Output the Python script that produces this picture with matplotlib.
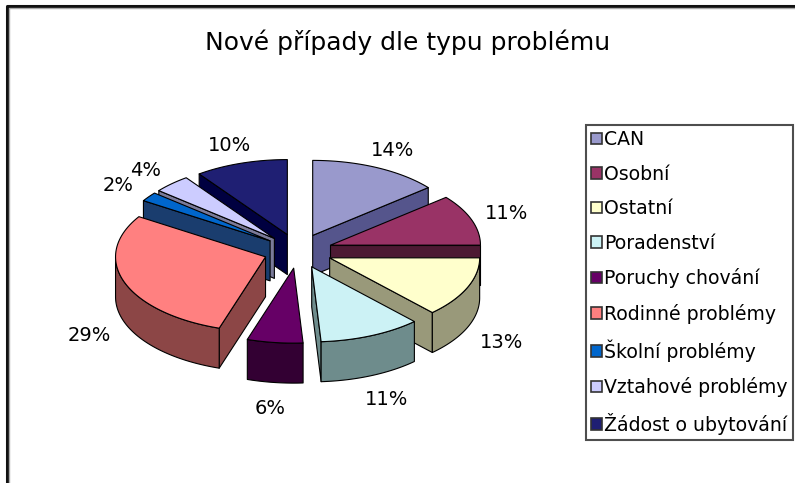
import numpy as np
import matplotlib
matplotlib.use("Agg")
import matplotlib.pyplot as plt
from matplotlib.patches import Polygon, Patch

# --- Data ---
categories = ["CAN", "Osobní", "Ostatní", "Poradenství", "Poruchy chování",
              "Rodinné problémy", "Školní problémy", "Vztahové problémy",
              "Žádost o ubytování"]
percents = [14, 11, 13, 11, 6, 29, 2, 4, 10]

top_colors = ["#9999cc", "#993366", "#ffffcc", "#ccf2f5", "#660066",
              "#ff8080", "#0066cc", "#ccccff", "#1f1f73"]
side_colors = ["#55558c", "#4d1a33", "#99997a", "#6e8c8c", "#330033",
               "#8c4646", "#1a3d6e", "#7a7a99", "#000040"]

# --- Geometry of the fake 3D pie (pixel coords, y down) ---
cx, cy = 298, 251
rx, ry = 150, 75
depth = 40
explode = 0.23

fig = plt.figure(figsize=(7.95, 4.83), dpi=100)
ax = fig.add_axes([0, 0, 1, 1])
ax.set_xlim(0, 795)
ax.set_ylim(483, 0)
ax.axis("off")

# outer frame (top + left, like the cropped Excel chart)
ax.plot([7, 7, 795], [483, 6, 6], color="#111111", lw=2.2, solid_capstyle="butt")
ax.plot([9, 9, 795], [483, 8, 8], color="#aaaaaa", lw=1, solid_capstyle="butt")

ax.text(408, 42, "Nové případy dle typu problému", ha="center", va="center",
        fontsize=18, family="DejaVu Sans")

vals = np.array(percents, dtype=float)
bounds = np.concatenate([[0], np.cumsum(vals) / vals.sum() * 360])


def arc(a, b, ox, oy, dz=0, n=60):
    phi = np.radians(np.linspace(a, b, n))
    return np.column_stack([cx + ox + rx * np.sin(phi),
                            cy + oy - ry * np.cos(phi) + dz])


def edge_pt(phi, ox, oy, dz=0):
    p = np.radians(phi)
    return [cx + ox + rx * np.sin(p), cy + oy - ry * np.cos(p) + dz]


order = np.argsort([-np.cos(np.radians((bounds[i] + bounds[i + 1]) / 2))
                    for i in range(len(vals))])

kw = dict(edgecolor="black", lw=0.8, joinstyle="round")
for i in order:
    a, b = bounds[i], bounds[i + 1]
    mid = np.radians((a + b) / 2)
    ox = explode * rx * np.sin(mid)
    oy = -explode * ry * np.cos(mid)
    v = [cx + ox, cy + oy]
    vb = [cx + ox, cy + oy + depth]
    # radial cut faces
    if np.sin(np.radians(a)) < -1e-9:
        ax.add_patch(Polygon([v, edge_pt(a, ox, oy), edge_pt(a, ox, oy, depth), vb],
                             facecolor=side_colors[i], **kw))
    if np.sin(np.radians(b)) > 1e-9:
        ax.add_patch(Polygon([v, edge_pt(b, ox, oy), edge_pt(b, ox, oy, depth), vb],
                             facecolor=side_colors[i], **kw))
    # outer wall (front half only)
    wa, wb = max(a, 90), min(b, 270)
    if wb > wa:
        top = arc(wa, wb, ox, oy)
        bot = arc(wa, wb, ox, oy, depth)[::-1]
        ax.add_patch(Polygon(np.vstack([top, bot]), facecolor=side_colors[i], **kw))
    # top face
    ax.add_patch(Polygon(np.vstack([[v], arc(a, b, ox, oy)]),
                         facecolor=top_colors[i], **kw))

    # percentage label
    lr = 1.48
    lx = cx + lr * rx * np.sin(mid)
    ly = cy - lr * ry * np.cos(mid)
    if np.cos(mid) < 0:
        ly += depth + 7
    ax.text(lx, ly, f"{percents[i]}%", ha="center", va="center",
            fontsize=14, family="DejaVu Sans")

handles = [Patch(facecolor=c, edgecolor="#333333", lw=1.2) for c in top_colors]
leg = ax.legend(handles, categories, loc="upper left",
                bbox_to_anchor=(586 / 795, 1 - 125 / 483),
                prop={"family": "DejaVu Sans", "size": 13.6},
                frameon=True, fancybox=False, edgecolor="#222222",
                handlelength=0.55, handleheight=0.55, handletextpad=0.12,
                labelspacing=0.82, borderpad=0.28, borderaxespad=0)
leg.get_frame().set_linewidth(1.5)

fig.savefig("out.png", dpi=100)
